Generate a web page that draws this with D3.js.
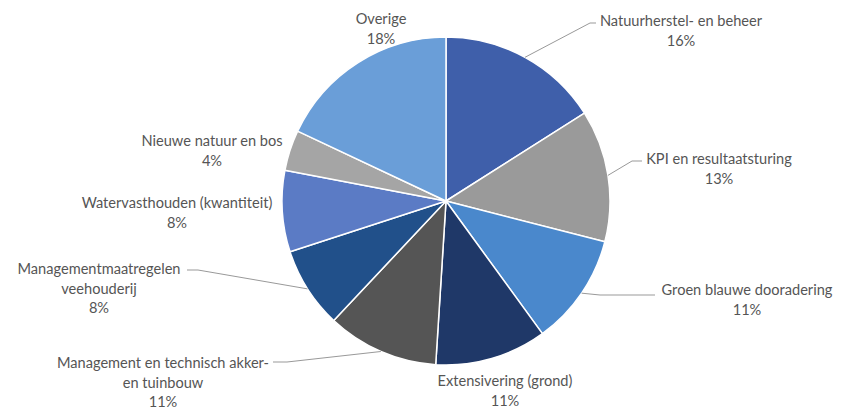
<!DOCTYPE html>
<html>
<head>
<meta charset="utf-8">
<script src="https://cdn.jsdelivr.net/npm/d3@7"></script>
<style>
  body { margin: 0; background: #fff; }
  svg text { font-family: Lato, "Open Sans", sans-serif; font-size: 14.6px; fill: #555; }
</style>
</head>
<body>
<svg width="849" height="411"></svg>
<script>
const categories = [
  "Natuurherstel- en beheer",
  "KPI en resultaatsturing",
  "Groen blauwe dooradering",
  "Extensivering (grond)",
  "Management en technisch akker-|en tuinbouw",
  "Managementmaatregelen|veehouderij",
  "Watervasthouden (kwantiteit)",
  "Nieuwe natuur en bos",
  "Overige"
];
const values = [16, 13, 11, 11, 11, 8, 8, 4, 18];
const colors = ["#3f5faa", "#9a9a9a", "#4a88cc", "#1f3868", "#555555", "#21508a", "#5b7bc5", "#a5a5a5", "#6a9ed8"];

// label layout: text centre of first line, and optional leader (elbow, end)
const labelPos = [
  { x: 681, y: 20, leader: [[590, 23], [596, 23]] },
  { x: 719, y: 158, leader: [[632, 161], [642, 161]] },
  { x: 747, y: 289, leader: [[600, 295], [655, 295]] },
  { x: 505, y: 380 },
  { x: 163, y: 362, leader: [[287, 362], [273, 362]] },
  { x: 99, y: 268, leader: [[198, 270], [187, 270]] },
  { x: 177, y: 202 },
  { x: 212, y: 140 },
  { x: 381, y: 18 }
];

const CX = 446, CY = 201, R = 164;
const LINE_H = 19.5;

const svg = d3.select("svg");
const g = svg.append("g").attr("transform", `translate(${CX},${CY})`);

const data = categories.map((c, i) => ({ name: c, value: values[i], color: colors[i], pos: labelPos[i] }));
const pie = d3.pie().value(d => d.value).sort(null);
const arc = d3.arc().innerRadius(0).outerRadius(R);
const arcs = pie(data);

g.selectAll("path.slice")
  .data(arcs)
  .enter()
  .append("path")
  .attr("class", "slice")
  .attr("d", arc)
  .attr("fill", d => d.data.color)
  .attr("stroke", "#fff")
  .attr("stroke-width", 1.5)
  .attr("stroke-linejoin", "round");

// leader lines
const line = d3.line();
svg.selectAll("path.leader")
  .data(arcs.filter(d => d.data.pos.leader))
  .enter()
  .append("path")
  .attr("class", "leader")
  .attr("d", d => {
    const mid = (d.startAngle + d.endAngle) / 2;
    const p0 = [CX + Math.sin(mid) * R, CY - Math.cos(mid) * R];
    return line([p0].concat(d.data.pos.leader));
  })
  .attr("fill", "none")
  .attr("stroke", "#999")
  .attr("stroke-width", 1);

const total = d3.sum(values);
const labels = svg.selectAll("text.label")
  .data(arcs)
  .enter()
  .append("text")
  .attr("class", "label")
  .attr("text-anchor", "middle")
  .attr("dominant-baseline", "central");

labels.each(function (d) {
  const lines = d.data.name.split("|").concat([Math.round(d.data.value / total * 100) + "%"]);
  d3.select(this).selectAll("tspan")
    .data(lines)
    .enter()
    .append("tspan")
    .attr("x", d.data.pos.x)
    .attr("y", (t, i) => d.data.pos.y + i * LINE_H)
    .text(t => t);
});
</script>
</body>
</html>
